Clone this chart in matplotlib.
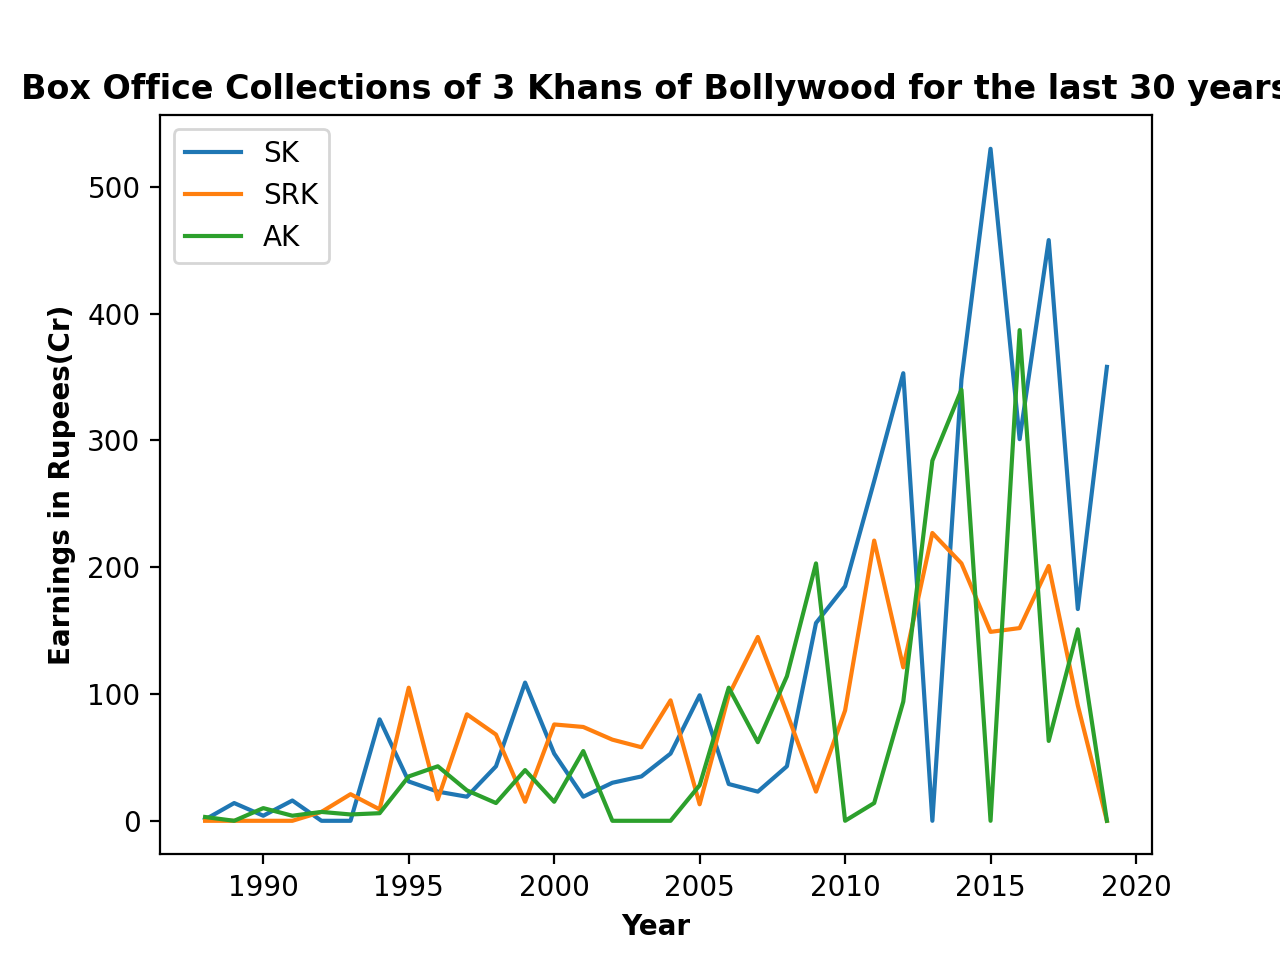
import matplotlib
matplotlib.use("Agg")
import matplotlib.pyplot as plt

years = list(range(1988, 2020))
sk = [1, 14, 4, 16, 0, 0, 80, 31, 23, 19, 43, 109, 53, 19, 30, 35, 53, 99, 29, 23, 43,
      156, 185, 268, 353, 0, 348, 530, 301, 458, 167, 358]
srk = [0, 0, 0, 0, 7, 21, 9, 105, 17, 84, 68, 15, 76, 74, 64, 58, 95, 13, 99, 145, 85,
       23, 87, 221, 121, 227, 203, 149, 152, 201, 91, 0]
ak = [3, 0, 10, 4, 7, 5, 6, 35, 43, 24, 14, 40, 15, 55, 0, 0, 0, 28, 105, 62, 114,
      203, 0, 14, 94, 284, 340, 0, 387, 63, 151, 0]

fig, ax = plt.subplots(figsize=(6.4, 4.8), dpi=200)
ax.plot(years, sk, label="SK")
ax.plot(years, srk, label="SRK")
ax.plot(years, ak, label="AK")
ax.set_title("Box Office Collections of 3 Khans of Bollywood for the last 30 years",
             fontweight="bold")
ax.set_xlabel("Year", fontweight="bold")
ax.set_ylabel("Earnings in Rupees(Cr)", fontweight="bold")
ax.legend(loc="upper left")
fig.savefig("out.png", dpi=200)
